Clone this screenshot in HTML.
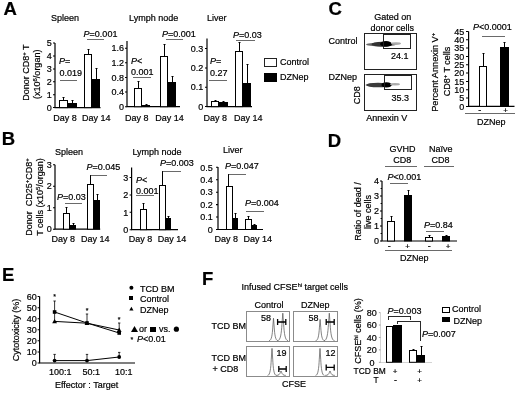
<!DOCTYPE html>
<html><head><meta charset="utf-8"><title>Figure</title>
<style>
html,body{margin:0;padding:0;background:#fff;}
svg{display:block;}
svg{font-family:"Liberation Sans",Arial,sans-serif;font-size:9px;fill:#000;}
text{stroke:#000;stroke-width:0.2px;}
</style></head><body>
<svg width="520" height="394" viewBox="0 0 520 394">
<defs><filter id="b1" x="-20%" y="-200%" width="140%" height="500%"><feGaussianBlur stdDeviation="0.5"/></filter></defs>
<rect x="0" y="0" width="520" height="394" fill="#fff"/>
<text x="3.6" y="14.6" font-size="18.5" font-weight="bold">A</text>
<text x="51" y="21.4">Spleen</text>
<text x="129" y="21.4">Lymph node</text>
<text x="207" y="21.4">Liver</text>
<text transform="translate(29.4,72.6) rotate(-90)" text-anchor="middle">Donor CD8<tspan dy="-3" font-size="6">+</tspan><tspan dy="3" font-size="0.1">​</tspan> T</text>
<text transform="translate(40.2,74.3) rotate(-90)" text-anchor="middle">(x10<tspan dy="-3" font-size="6">6</tspan><tspan dy="3" font-size="0.1">​</tspan>/organ)</text>
<path d="M55 43.1L55 107.6L100.5 107.6" stroke="#000" stroke-width="1.2" fill="none"/>
<path d="M53.0 107.6L55 107.6M53.0 94.69999999999999L55 94.69999999999999M53.0 81.8L55 81.8M53.0 68.89999999999999L55 68.89999999999999M53.0 55.99999999999999L55 55.99999999999999M53.0 43.099999999999994L55 43.099999999999994" stroke="#000" stroke-width="1.02" fill="none"/>
<text x="51.7" y="110.8" text-anchor="end">0</text>
<text x="51.7" y="97.9" text-anchor="end">1</text>
<text x="51.7" y="85.0" text-anchor="end">2</text>
<text x="51.7" y="72.1" text-anchor="end">3</text>
<text x="51.7" y="59.2" text-anchor="end">4</text>
<text x="51.7" y="46.3" text-anchor="end">5</text>
<path d="M63.5 100L63.5 97.0M62.5 97.5L64.5 97.5" stroke="#000" stroke-width="1" fill="none"/>
<rect x="59.5" y="100.5" width="8.0" height="7.1" fill="#fff" stroke="#000" stroke-width="1.0"/>
<path d="M72.5 103L72.5 100.0M71.5 100.5L73.5 100.5" stroke="#000" stroke-width="1" fill="none"/>
<rect x="68" y="103" width="9" height="5.0" fill="#000" stroke="#000" stroke-width="0"/>
<path d="M88.5 54L88.5 49.0M87.5 49.5L89.5 49.5" stroke="#000" stroke-width="1" fill="none"/>
<rect x="84.5" y="54.5" width="7.0" height="53.1" fill="#fff" stroke="#000" stroke-width="1.0"/>
<path d="M96.5 79L96.5 68.0M95.5 68.5L97.5 68.5" stroke="#000" stroke-width="1" fill="none"/>
<rect x="92" y="79" width="8" height="29.0" fill="#000" stroke="#000" stroke-width="0"/>
<text x="59" y="64.4"><tspan font-style="italic">P</tspan>=</text>
<text x="59.5" y="75.6">0.019</text>
<path d="M60 80.5L77 80.5" stroke="#1a1a1a" stroke-width="0.65" fill="none" shape-rendering="crispEdges"/>
<text x="83.6" y="37.4"><tspan font-style="italic">P</tspan>=0.001</text>
<path d="M86.6 39.5L104.4 39.5" stroke="#1a1a1a" stroke-width="0.65" fill="none" shape-rendering="crispEdges"/>
<text x="53.2" y="121.4">Day 8</text>
<text x="82" y="121.4">Day 14</text>
<path d="M127 41L127 106.7L180 106.7" stroke="#000" stroke-width="1.2" fill="none"/>
<path d="M125.0 106.7L127 106.7M125.0 92.06L127 92.06M125.0 77.42L127 77.42M125.0 62.78L127 62.78M125.0 48.14L127 48.14" stroke="#000" stroke-width="1.02" fill="none"/>
<text x="124" y="109.9" text-anchor="end">0</text>
<text x="124" y="95.26" text-anchor="end">0.4</text>
<text x="124" y="80.62" text-anchor="end">0.8</text>
<text x="124" y="65.98" text-anchor="end">1.2</text>
<text x="124" y="51.34" text-anchor="end">1.6</text>
<path d="M138.5 88L138.5 81.0M137.5 81.5L139.5 81.5" stroke="#000" stroke-width="1" fill="none"/>
<rect x="134.5" y="88.5" width="7.0" height="18.2" fill="#fff" stroke="#000" stroke-width="1.0"/>
<path d="M146.5 105L146.5 104.0M145.5 104.5L147.5 104.5" stroke="#000" stroke-width="1" fill="none"/>
<rect x="142" y="105" width="8" height="2.1" fill="#000" stroke="#000" stroke-width="0"/>
<path d="M164.5 56L164.5 44.0M163.5 44.5L165.5 44.5" stroke="#000" stroke-width="1" fill="none"/>
<rect x="160.5" y="56.5" width="7.0" height="50.2" fill="#fff" stroke="#000" stroke-width="1.0"/>
<path d="M172.5 82L172.5 76.0M171.5 76.5L173.5 76.5" stroke="#000" stroke-width="1" fill="none"/>
<rect x="168" y="82" width="8" height="25.1" fill="#000" stroke="#000" stroke-width="0"/>
<text x="131" y="64.4"><tspan font-style="italic">P</tspan>&lt;</text>
<text x="131" y="75.2">0.001</text>
<path d="M132.5 77.5L150.6 77.5" stroke="#1a1a1a" stroke-width="0.65" fill="none" shape-rendering="crispEdges"/>
<text x="162" y="37.4"><tspan font-style="italic">P</tspan>=0.001</text>
<path d="M165.6 39.5L183 39.5" stroke="#1a1a1a" stroke-width="0.65" fill="none" shape-rendering="crispEdges"/>
<text x="125.1" y="121.3">Day 8</text>
<text x="155.2" y="121.3">Day 14</text>
<path d="M207 38.4L207 106.6L252 106.6" stroke="#000" stroke-width="1.2" fill="none"/>
<path d="M205.0 106.6L207 106.6M205.0 87.25L207 87.25M205.0 67.89999999999999L207 67.89999999999999M205.0 48.55L207 48.55" stroke="#000" stroke-width="1.02" fill="none"/>
<text x="203.3" y="109.8" text-anchor="end">0</text>
<text x="203.3" y="90.45" text-anchor="end">0.1</text>
<text x="203.3" y="71.1" text-anchor="end">0.2</text>
<text x="203.3" y="51.75" text-anchor="end">0.3</text>
<path d="M215.5 101L215.5 100.0M214.5 100.5L216.5 100.5" stroke="#000" stroke-width="1" fill="none"/>
<rect x="211.5" y="101.5" width="7.0" height="5.1" fill="#fff" stroke="#000" stroke-width="1.0"/>
<path d="M223.5 102L223.5 101.0M222.5 101.5L224.5 101.5" stroke="#000" stroke-width="1" fill="none"/>
<rect x="219" y="102" width="9" height="5.0" fill="#000" stroke="#000" stroke-width="0"/>
<path d="M239.5 51L239.5 42.0M238.5 42.5L240.5 42.5" stroke="#000" stroke-width="1" fill="none"/>
<rect x="235.5" y="51.5" width="7.0" height="55.1" fill="#fff" stroke="#000" stroke-width="1.0"/>
<path d="M247.5 83L247.5 64.0M246.5 64.5L248.5 64.5" stroke="#000" stroke-width="1" fill="none"/>
<rect x="243" y="83" width="8" height="24.0" fill="#000" stroke="#000" stroke-width="0"/>
<text x="210" y="64"><tspan font-style="italic">P</tspan>=</text>
<text x="210" y="75.8">0.27</text>
<path d="M209.4 80.5L227.2 80.5" stroke="#1a1a1a" stroke-width="0.65" fill="none" shape-rendering="crispEdges"/>
<text x="233" y="38"><tspan font-style="italic">P</tspan>=0.03</text>
<path d="M236.3 40.5L254.8 40.5" stroke="#1a1a1a" stroke-width="0.65" fill="none" shape-rendering="crispEdges"/>
<text x="203.6" y="121.4">Day 8</text>
<text x="234" y="121.4">Day 14</text>
<rect x="264.5" y="58.5" width="12.0" height="8.0" fill="#fff" stroke="#222" stroke-width="1" shape-rendering="crispEdges"/>
<text x="280" y="65.2">Control</text>
<rect x="264" y="73.4" width="12.6" height="8.2" fill="#000" stroke="#000" stroke-width="0" shape-rendering="crispEdges"/>
<text x="280" y="80.4">DZNep</text>
<text x="328.5" y="15" font-size="18.5" font-weight="bold">C</text>
<text x="392.7" y="20" text-anchor="middle">Gated on</text>
<text x="392.3" y="31" text-anchor="middle">donor cells</text>
<text x="328.4" y="44">Control</text>
<text x="328.4" y="80.4">DZNep</text>
<rect x="364.5" y="33.5" width="52.0" height="36.0" fill="#fff" stroke="#222" stroke-width="1" shape-rendering="crispEdges"/>
<rect x="364.5" y="74.5" width="52.0" height="36.0" fill="#fff" stroke="#222" stroke-width="1" shape-rendering="crispEdges"/>
<g filter="url(#b1)">
<ellipse cx="381" cy="44.4" rx="15" ry="1.8" fill="#666"/>
<ellipse cx="382" cy="44.3" rx="10.5" ry="2.5" fill="#333"/>
<ellipse cx="386" cy="43.9" rx="6" ry="2.8" fill="#000"/>
<ellipse cx="396" cy="43.6" rx="5" ry="1.3" fill="#aaa"/>
<ellipse cx="379" cy="85" rx="13.5" ry="1.8" fill="#666"/>
<ellipse cx="378" cy="85" rx="11.5" ry="2.3" fill="#3a3a3a"/>
<ellipse cx="386.5" cy="84.8" rx="5" ry="2.6" fill="#000"/>
<ellipse cx="395" cy="84.2" rx="5" ry="1.2" fill="#aaa"/>
</g>
<rect x="383.5" y="34.5" width="27.0" height="14.0" fill="none" stroke="#222" stroke-width="1" shape-rendering="crispEdges"/>
<rect x="384.5" y="75.5" width="27.0" height="14.0" fill="none" stroke="#222" stroke-width="1" shape-rendering="crispEdges"/>
<text x="391" y="59">24.1</text>
<text x="391.6" y="100.6">35.3</text>
<text transform="translate(360.3,95.2) rotate(-90)" text-anchor="middle">CD8</text>
<text x="366.2" y="121">Annexin V</text>
<path d="M468.6 31.4L468.6 106.4L514.5 106.4" stroke="#000" stroke-width="1.2" fill="none"/>
<path d="M466.0 106.4L468.6 106.4M466.0 98.065L468.6 98.065M466.0 89.73L468.6 89.73M466.0 81.39500000000001L468.6 81.39500000000001M466.0 73.06L468.6 73.06M466.0 64.725L468.6 64.725M466.0 56.39000000000001L468.6 56.39000000000001M466.0 48.05500000000001L468.6 48.05500000000001M466.0 39.72L468.6 39.72M466.0 31.385000000000005L468.6 31.385000000000005" stroke="#000" stroke-width="1.02" fill="none"/>
<text x="464.2" y="109.6" text-anchor="end">0</text>
<text x="464.2" y="101.27" text-anchor="end">5</text>
<text x="464.2" y="92.93" text-anchor="end">10</text>
<text x="464.2" y="84.6" text-anchor="end">15</text>
<text x="464.2" y="76.26" text-anchor="end">20</text>
<text x="464.2" y="67.92" text-anchor="end">25</text>
<text x="464.2" y="59.59" text-anchor="end">30</text>
<text x="464.2" y="51.26" text-anchor="end">35</text>
<text x="464.2" y="42.92" text-anchor="end">40</text>
<text x="464.2" y="34.59" text-anchor="end">45</text>
<path d="M483.5 66L483.5 53.0M482.5 53.5L484.5 53.5" stroke="#000" stroke-width="1" fill="none"/>
<rect x="479.5" y="66.5" width="7.0" height="39.9" fill="#fff" stroke="#000" stroke-width="1.0"/>
<path d="M504.5 47L504.5 42.0M503.5 42.5L505.5 42.5" stroke="#000" stroke-width="1" fill="none"/>
<rect x="500" y="47" width="9" height="59.8" fill="#000" stroke="#000" stroke-width="0"/>
<text x="473" y="29.6"><tspan font-style="italic">P</tspan>&lt;0.0001</text>
<path d="M482 36L504.6 36" stroke="#1a1a1a" stroke-width="0.65" fill="none" shape-rendering="crispEdges"/>
<text x="479.8" y="113" text-anchor="middle">-</text>
<text x="505.7" y="113.2" text-anchor="middle" font-size="8">+</text>
<path d="M465.4 113.5L515.4 113.5" stroke="#1a1a1a" stroke-width="0.65" fill="none" shape-rendering="crispEdges"/>
<text x="477" y="124.9">DZNep</text>
<text transform="translate(438.3,72.3) rotate(-90)" text-anchor="middle" font-size="9.2">Percent Annexin V<tspan dy="-3" font-size="6">+</tspan><tspan dy="3" font-size="0.1">​</tspan></text>
<text transform="translate(449.6,71.5) rotate(-90)" text-anchor="middle">CD8<tspan dy="-3" font-size="6">+</tspan><tspan dy="3" font-size="0.1">​</tspan> T cells</text>
<text x="1.8" y="144.8" font-size="18.5" font-weight="bold">B</text>
<text x="55" y="155">Spleen</text>
<text x="132.4" y="155">Lymph node</text>
<text x="223" y="153">Liver</text>
<text transform="translate(31.5,197) rotate(-90)" text-anchor="middle" xml:space="preserve" style="white-space:pre">Donor  CD25<tspan dy="-3" font-size="6">+</tspan><tspan dy="3" font-size="0.1">​</tspan>CD8<tspan dy="-3" font-size="6">+</tspan><tspan dy="3" font-size="0.1">​</tspan></text>
<text transform="translate(42.5,197) rotate(-90)" text-anchor="middle">T cells (x10<tspan dy="-3" font-size="6">5</tspan><tspan dy="3" font-size="0.1">​</tspan>/organ)</text>
<path d="M55 164.7L55 229.2L100.2 229.2" stroke="#000" stroke-width="1.2" fill="none"/>
<path d="M53.0 229.2L55 229.2M53.0 207.7L55 207.7M53.0 186.2L55 186.2M53.0 164.7L55 164.7" stroke="#000" stroke-width="1.02" fill="none"/>
<text x="51.8" y="232.4" text-anchor="end">0</text>
<text x="51.8" y="210.9" text-anchor="end">1</text>
<text x="51.8" y="189.4" text-anchor="end">2</text>
<text x="51.8" y="167.9" text-anchor="end">3</text>
<path d="M66.5 213L66.5 207.0M65.5 207.5L67.5 207.5" stroke="#000" stroke-width="1" fill="none"/>
<rect x="63.5" y="213.5" width="6.0" height="15.7" fill="#fff" stroke="#000" stroke-width="1.0"/>
<path d="M73.5 225L73.5 223.0M72.5 223.5L74.5 223.5" stroke="#000" stroke-width="1" fill="none"/>
<rect x="70" y="225" width="6" height="4.6" fill="#000" stroke="#000" stroke-width="0"/>
<path d="M90.5 184L90.5 175.0" stroke="#000" stroke-width="1" fill="none"/>
<rect x="87.5" y="184.5" width="6.0" height="44.7" fill="#fff" stroke="#000" stroke-width="1.0"/>
<path d="M97.5 200L97.5 194.0M96.5 194.5L98.5 194.5" stroke="#000" stroke-width="1" fill="none"/>
<rect x="94" y="200" width="6" height="29.6" fill="#000" stroke="#000" stroke-width="0"/>
<text x="57" y="200.4"><tspan font-style="italic">P</tspan>=0.03</text>
<path d="M64.6 203.5L82.4 203.5" stroke="#1a1a1a" stroke-width="0.65" fill="none" shape-rendering="crispEdges"/>
<text x="86.4" y="170"><tspan font-style="italic">P</tspan>=0.045</text>
<path d="M90.4 175.5L107 175.5" stroke="#1a1a1a" stroke-width="0.65" fill="none" shape-rendering="crispEdges"/>
<text x="51.6" y="241.6">Day 8</text>
<text x="81" y="241.6">Day 14</text>
<path d="M131.6 167.4L131.6 229.7L178 229.7" stroke="#000" stroke-width="1.2" fill="none"/>
<path d="M129.6 229.7L131.6 229.7M129.6 212.29999999999998L131.6 212.29999999999998M129.6 194.89999999999998L131.6 194.89999999999998M129.6 177.5L131.6 177.5" stroke="#000" stroke-width="1.02" fill="none"/>
<text x="128.2" y="232.9" text-anchor="end">0</text>
<text x="128.2" y="215.5" text-anchor="end">1</text>
<text x="128.2" y="198.1" text-anchor="end">2</text>
<text x="128.2" y="180.7" text-anchor="end">3</text>
<path d="M143.5 209L143.5 203.0M142.5 203.5L144.5 203.5" stroke="#000" stroke-width="1" fill="none"/>
<rect x="140.5" y="209.5" width="6.0" height="20.2" fill="#fff" stroke="#000" stroke-width="1.0"/>
<rect x="147" y="229" width="5" height="1.1" fill="#000" stroke="#000" stroke-width="0"/>
<path d="M162.5 185L162.5 171.0" stroke="#000" stroke-width="1" fill="none"/>
<rect x="159.5" y="185.5" width="6.0" height="44.2" fill="#fff" stroke="#000" stroke-width="1.0"/>
<path d="M168.5 218L168.5 216.0M167.5 216.5L169.5 216.5" stroke="#000" stroke-width="1" fill="none"/>
<rect x="166" y="218" width="5" height="12.1" fill="#000" stroke="#000" stroke-width="0"/>
<text x="136" y="183"><tspan font-style="italic">P</tspan>&lt;</text>
<text x="136" y="194">0.001</text>
<path d="M136 195.6L154 195.6" stroke="#1a1a1a" stroke-width="0.65" fill="none" shape-rendering="crispEdges"/>
<text x="160" y="166"><tspan font-style="italic">P</tspan>=0.003</text>
<path d="M162 171.4L181 171.4" stroke="#1a1a1a" stroke-width="0.65" fill="none" shape-rendering="crispEdges"/>
<text x="128.8" y="242">Day 8</text>
<text x="157.8" y="242">Day 14</text>
<path d="M218 167L218 229.5L263 229.5" stroke="#000" stroke-width="1.2" fill="none"/>
<path d="M216.0 229.5L218 229.5M216.0 217.06L218 217.06M216.0 204.62L218 204.62M216.0 192.18L218 192.18M216.0 179.74L218 179.74M216.0 167.3L218 167.3" stroke="#000" stroke-width="1.02" fill="none"/>
<text x="212.8" y="232.7" text-anchor="end">0</text>
<text x="212.8" y="220.26" text-anchor="end">0.1</text>
<text x="212.8" y="207.82" text-anchor="end">0.2</text>
<text x="212.8" y="195.38" text-anchor="end">0.3</text>
<text x="212.8" y="182.94" text-anchor="end">0.4</text>
<text x="212.8" y="170.5" text-anchor="end">0.5</text>
<path d="M228.5 186L228.5 174.0" stroke="#000" stroke-width="1" fill="none"/>
<rect x="226.5" y="186.5" width="6.0" height="43.0" fill="#fff" stroke="#000" stroke-width="1.0"/>
<path d="M235.5 218L235.5 213.0M234.5 213.5L236.5 213.5" stroke="#000" stroke-width="1" fill="none"/>
<rect x="233" y="218" width="5" height="11.9" fill="#000" stroke="#000" stroke-width="0"/>
<path d="M248.5 219L248.5 216.0M247.5 216.5L249.5 216.5" stroke="#000" stroke-width="1" fill="none"/>
<rect x="245.5" y="219.5" width="6.0" height="10.0" fill="#fff" stroke="#000" stroke-width="1.0"/>
<path d="M254.5 225L254.5 224.0M253.5 224.5L255.5 224.5" stroke="#000" stroke-width="1" fill="none"/>
<rect x="252" y="225" width="5" height="4.9" fill="#000" stroke="#000" stroke-width="0"/>
<text x="225" y="169"><tspan font-style="italic">P</tspan>=0.047</text>
<path d="M228 174L246 174" stroke="#1a1a1a" stroke-width="0.65" fill="none" shape-rendering="crispEdges"/>
<text x="245" y="206.4"><tspan font-style="italic">P</tspan>=0.004</text>
<path d="M246 211L263.6 211" stroke="#1a1a1a" stroke-width="0.65" fill="none" shape-rendering="crispEdges"/>
<text x="214.4" y="241.6">Day 8</text>
<text x="243.6" y="241.6">Day 14</text>
<text x="327.8" y="146.6" font-size="18.5" font-weight="bold">D</text>
<text x="402.6" y="151.6" text-anchor="middle">GVHD</text>
<text x="402.2" y="162.6" text-anchor="middle">CD8</text>
<text x="440.7" y="151.6" text-anchor="middle">Naïve</text>
<text x="440.5" y="162.6" text-anchor="middle">CD8</text>
<path d="M385.4 166.6L417 166.6" stroke="#1a1a1a" stroke-width="0.65" fill="none" shape-rendering="crispEdges"/>
<path d="M423.6 166.6L454.4 166.6" stroke="#1a1a1a" stroke-width="0.65" fill="none" shape-rendering="crispEdges"/>
<text x="387.4" y="179.6"><tspan font-style="italic">P</tspan>&lt;0.001</text>
<path d="M390 183.6L407.6 183.6" stroke="#1a1a1a" stroke-width="0.65" fill="none" shape-rendering="crispEdges"/>
<path d="M382 181L382 241.0L457 241.0" stroke="#000" stroke-width="1.2" fill="none"/>
<path d="M380.0 241.0L382 241.0M380.0 226.0L382 226.0M380.0 211.0L382 211.0M380.0 196.0L382 196.0M380.0 181.0L382 181.0M380.6 233.5L382 233.5M380.6 218.5L382 218.5M380.6 203.5L382 203.5M380.6 188.5L382 188.5" stroke="#000" stroke-width="1.02" fill="none"/>
<text x="379" y="244.2" text-anchor="end">0</text>
<text x="379" y="229.2" text-anchor="end">1</text>
<text x="379" y="214.2" text-anchor="end">2</text>
<text x="379" y="199.2" text-anchor="end">3</text>
<text x="379" y="184.2" text-anchor="end">4</text>
<path d="M391.5 221L391.5 216.0M390.5 216.5L392.5 216.5" stroke="#000" stroke-width="1" fill="none"/>
<rect x="387.5" y="221.5" width="7.0" height="19.5" fill="#fff" stroke="#000" stroke-width="1.0"/>
<path d="M408.5 195L408.5 190.0M407.5 190.5L409.5 190.5" stroke="#000" stroke-width="1" fill="none"/>
<rect x="404" y="195" width="8" height="46.4" fill="#000" stroke="#000" stroke-width="0"/>
<path d="M429.5 237L429.5 235.0M428.5 235.5L430.5 235.5" stroke="#000" stroke-width="1" fill="none"/>
<rect x="425.5" y="237.5" width="7.0" height="3.5" fill="#fff" stroke="#000" stroke-width="1.0"/>
<path d="M446.5 236L446.5 235.0M445.5 235.5L447.5 235.5" stroke="#000" stroke-width="1" fill="none"/>
<rect x="442" y="236" width="8" height="5.4" fill="#000" stroke="#000" stroke-width="0"/>
<text x="424" y="227.6"><tspan font-style="italic">P</tspan>=0.84</text>
<path d="M426.4 231L444.4 231" stroke="#1a1a1a" stroke-width="0.65" fill="none" shape-rendering="crispEdges"/>
<text x="389.2" y="248.8" text-anchor="middle">-</text>
<text x="407.6" y="249" text-anchor="middle" font-size="8">+</text>
<text x="429.2" y="248.8" text-anchor="middle">-</text>
<text x="448" y="249" text-anchor="middle" font-size="8">+</text>
<path d="M385 250.3L452 250.3" stroke="#1a1a1a" stroke-width="0.65" fill="none" shape-rendering="crispEdges"/>
<text x="400" y="261">DZNep</text>
<text transform="translate(361.3,211.5) rotate(-90)" text-anchor="middle">Ratio of dead /</text>
<text transform="translate(371.4,212) rotate(-90)" text-anchor="middle">live cells</text>
<text x="1.9" y="280.6" font-size="18.5" font-weight="bold">E</text>
<path d="M39.6 296.6L39.6 363.0L135 363.0" stroke="#000" stroke-width="1.2" fill="none"/>
<path d="M37.6 363.0L39.6 363.0M37.6 351.93L39.6 351.93M37.6 340.86L39.6 340.86M37.6 329.79L39.6 329.79M37.6 318.72L39.6 318.72M37.6 307.65L39.6 307.65M37.6 296.58L39.6 296.58" stroke="#000" stroke-width="1.02" fill="none"/>
<text x="36.8" y="366.2" text-anchor="end">0</text>
<text x="36.8" y="355.13" text-anchor="end">10</text>
<text x="36.8" y="344.06" text-anchor="end">20</text>
<text x="36.8" y="332.99" text-anchor="end">30</text>
<text x="36.8" y="321.92" text-anchor="end">40</text>
<text x="36.8" y="310.85" text-anchor="end">50</text>
<text x="36.8" y="299.78" text-anchor="end">60</text>
<path d="M54.6 312L54.6 301M53.4 301L55.800000000000004 301" stroke="#000" stroke-width="0.8" fill="none"/>
<path d="M54.6 360.6L54.6 354.4M53.4 354.4L55.800000000000004 354.4" stroke="#000" stroke-width="0.8" fill="none"/>
<path d="M87 323L87 314M85.8 314L88.2 314" stroke="#000" stroke-width="0.8" fill="none"/>
<path d="M87 360.6L87 354.4M85.8 354.4L88.2 354.4" stroke="#000" stroke-width="0.8" fill="none"/>
<path d="M119.2 333L119.2 323M118.0 323L120.4 323" stroke="#000" stroke-width="0.8" fill="none"/>
<path d="M119.2 357L119.2 352.4M118.0 352.4L120.4 352.4" stroke="#000" stroke-width="0.8" fill="none"/>
<path d="M54.6 312L54.6 321.4" stroke="#000" stroke-width="0.8" fill="none"/>
<path d="M54.6 312L87 323L119.2 333" stroke="#000" stroke-width="1.0" fill="none"/>
<path d="M54.6 321.4L87 323.2L119.2 330" stroke="#000" stroke-width="1.0" fill="none"/>
<path d="M54.6 360.6L87 360.6L119.2 357" stroke="#000" stroke-width="1.0" fill="none"/>
<rect x="52.8" y="310.2" width="3.6" height="3.6" fill="#000" stroke="#000" stroke-width="0"/>
<path d="M52.2 323.29999999999995L57.0 323.29999999999995L54.6 318.9Z" fill="#000"/>
<circle cx="54.6" cy="360.6" r="1.9" fill="#000"/>
<rect x="85.2" y="321.2" width="3.6" height="3.6" fill="#000" stroke="#000" stroke-width="0"/>
<path d="M84.6 325.09999999999997L89.4 325.09999999999997L87 320.7Z" fill="#000"/>
<circle cx="87" cy="360.6" r="1.9" fill="#000"/>
<rect x="117.4" y="331.2" width="3.6" height="3.6" fill="#000" stroke="#000" stroke-width="0"/>
<path d="M116.8 331.9L121.60000000000001 331.9L119.2 327.5Z" fill="#000"/>
<circle cx="119.2" cy="357" r="1.9" fill="#000"/>
<text x="54.6" y="298.6" text-anchor="middle" font-size="7">*</text>
<text x="87" y="312.6" text-anchor="middle" font-size="7">*</text>
<text x="119.2" y="322.20000000000005" text-anchor="middle" font-size="7">*</text>
<text x="49" y="375.3">100:1</text>
<text x="82.4" y="375.3">50:1</text>
<text x="115" y="375.3">10:1</text>
<text x="55" y="388">Effector : Target</text>
<text transform="translate(18.9,330) rotate(-90)" text-anchor="middle">Cytotoxicity (%)</text>
<circle cx="131.4" cy="287.8" r="2" fill="#000"/>
<text x="140" y="292">TCD BM</text>
<rect x="129.4" y="296" width="4.0" height="4.2" fill="#000" stroke="#000" stroke-width="0" shape-rendering="crispEdges"/>
<text x="140" y="302.4">Control</text>
<path d="M129.3 310.6L133.5 310.6L131.4 306.8Z" fill="#000"/>
<text x="140" y="313">DZNep</text>
<path d="M131 332L138 332L134.5 326Z" fill="#000"/>
<text x="139" y="331.8">or</text>
<rect x="150.4" y="326.6" width="5.6" height="5.4" fill="#000" stroke="#000" stroke-width="0" shape-rendering="crispEdges"/>
<text x="159" y="331.8">vs.</text>
<circle cx="176.4" cy="329.2" r="2.6" fill="#000"/>
<text x="130.6" y="341.8" font-size="7">*</text>
<text x="137" y="342.4"><tspan font-style="italic">P</tspan>&lt;0.01</text>
<text x="201.9" y="285" font-size="18.5" font-weight="bold">F</text>
<text x="241.6" y="290.4">Infused CFSE<tspan dy="-3" font-size="5.5">hi</tspan><tspan dy="3" font-size="0.1">​</tspan> target cells</text>
<text x="254.4" y="307.6">Control</text>
<text x="301" y="307.6">DZNep</text>
<rect x="246.6" y="311.6" width="43.0" height="29.8" fill="#fff" stroke="#5a5a5a" stroke-width="0.7" shape-rendering="crispEdges"/>
<rect x="246.6" y="346.6" width="43.0" height="29.4" fill="#fff" stroke="#5a5a5a" stroke-width="0.7" shape-rendering="crispEdges"/>
<rect x="293.6" y="311.6" width="43.4" height="29.8" fill="#fff" stroke="#5a5a5a" stroke-width="0.7" shape-rendering="crispEdges"/>
<rect x="293.6" y="346.6" width="43.4" height="29.4" fill="#fff" stroke="#5a5a5a" stroke-width="0.7" shape-rendering="crispEdges"/>
<clipPath id="c1"><rect x="246.6" y="311.6" width="43" height="29.8"/></clipPath>
<clipPath id="c2"><rect x="293.6" y="311.6" width="43.4" height="29.8"/></clipPath>
<clipPath id="c3"><rect x="246.6" y="346.6" width="43" height="29.4"/></clipPath>
<clipPath id="c4"><rect x="293.6" y="346.6" width="43.4" height="29.4"/></clipPath>
<g clip-path="url(#c1)">
<path d="M269.1 340.6C271.52 340.6 272.29 335.0 272.796 327.16L273.5 318.2L274.204 327.16C274.71 335.0 275.48 340.6 277.9 340.6M277.6 340.6C280.46000000000004 340.6 281.37 333.75 281.968 324.16L282.8 313.2L283.632 324.16C284.23 333.75 285.14 340.6 288.0 340.6" stroke="#5a5a5a" stroke-width="0.75" fill="none"/>
</g>
<g clip-path="url(#c2)">
<path d="M315.70000000000005 340.6C318.12 340.6 318.89000000000004 335.3 319.396 327.88L320.1 319.4L320.80400000000003 327.88C321.31 335.3 322.08000000000004 340.6 324.5 340.6M324.1 340.6C326.96000000000004 340.6 327.87 333.75 328.468 324.16L329.3 313.2L330.132 324.16C330.73 333.75 331.64 340.6 334.5 340.6" stroke="#5a5a5a" stroke-width="0.75" fill="none"/>
</g>
<g clip-path="url(#c3)">
<path d="M267.6 375.4C270.02 375.4 270.79 368.65 271.296 359.2L272 348.4L272.704 359.2C273.21 368.65 273.98 375.4 276.4 375.4M276.2 375.4C278.84 375.4 279.68 374.3 280.232 372.76L281 371L281.768 372.76C282.32 374.3 283.16 375.4 285.8 375.4" stroke="#5a5a5a" stroke-width="0.75" fill="none"/>
</g>
<g clip-path="url(#c4)">
<path d="M315.6 375.4C318.02 375.4 318.79 368.65 319.296 359.2L320 348.4L320.704 359.2C321.21 368.65 321.98 375.4 324.4 375.4M325.2 375.4C327.84 375.4 328.68 374.3 329.232 372.76L330 371L330.768 372.76C331.32 374.3 332.16 375.4 334.8 375.4" stroke="#5a5a5a" stroke-width="0.75" fill="none"/>
</g>
<path d="M277.6 322L285.8 322M277.6 319L277.6 325M285.8 319L285.8 325" stroke="#000" stroke-width="1.3" fill="none"/>
<path d="M326.2 322L334.2 322M326.2 319L326.2 325M334.2 319L334.2 325" stroke="#000" stroke-width="1.3" fill="none"/>
<path d="M278.8 369L286.2 369M278.8 366L278.8 372M286.2 366L286.2 372" stroke="#000" stroke-width="1.3" fill="none"/>
<path d="M326.2 367.4L334.2 367.4M326.2 364.4L326.2 370.4M334.2 364.4L334.2 370.4" stroke="#000" stroke-width="1.3" fill="none"/>
<text x="261" y="321">58</text>
<text x="308.6" y="321">58</text>
<text x="276.4" y="356">19</text>
<text x="325.4" y="356">12</text>
<text x="211.6" y="329.4">TCD BM</text>
<text x="211.6" y="360.6">TCD BM</text>
<text x="212.4" y="371.6">+ CD8</text>
<text x="282" y="387">CFSE</text>
<path d="M380.5 312.5L380.5 362.5L432 362.5" stroke="#d4d4d4" stroke-width="1" fill="none" shape-rendering="crispEdges"/>
<path d="M378.9 362.3L380.5 362.3M378.9 349.88L380.5 349.88M378.9 337.46L380.5 337.46M378.9 325.04L380.5 325.04M378.9 312.62L380.5 312.62" stroke="#8a8a8a" stroke-width="0.8" fill="none"/>
<text x="374.6" y="366.1" text-anchor="end">0</text>
<text x="376.8" y="353.08" text-anchor="end">20</text>
<text x="376.8" y="340.66" text-anchor="end">40</text>
<text x="376.8" y="328.24" text-anchor="end">60</text>
<text x="376.8" y="315.82" text-anchor="end">80</text>
<rect x="386.5" y="326.5" width="6.0" height="35.8" fill="#fff" stroke="#000" stroke-width="1.0"/>
<rect x="393" y="325" width="9" height="37.7" fill="#000" stroke="#000" stroke-width="0"/>
<path d="M413.5 350L413.5 349.0M412.5 349.5L414.5 349.5" stroke="#000" stroke-width="1" fill="none"/>
<rect x="409.5" y="350.5" width="7.0" height="11.8" fill="#fff" stroke="#000" stroke-width="1.0"/>
<path d="M421.5 355L421.5 346.0M420.5 346.5L422.5 346.5" stroke="#000" stroke-width="1" fill="none"/>
<rect x="417" y="355" width="8" height="7.7" fill="#000" stroke="#000" stroke-width="0"/>
<path d="M388.5 319.6L388.5 316.5L410.5 316.5L410.5 319.6" stroke="#2a2a2a" stroke-width="1" fill="none" shape-rendering="crispEdges"/>
<path d="M397.5 324L397.5 321.5L420.5 321.5L420.5 341" stroke="#2a2a2a" stroke-width="1" fill="none" shape-rendering="crispEdges"/>
<text x="387.6" y="314"><tspan font-style="italic">P</tspan>=0.003</text>
<text x="422" y="337"><tspan font-style="italic">P</tspan>=0.007</text>
<rect x="442.5" y="307.5" width="7.0" height="4.5" fill="#fff" stroke="#000" stroke-width="1" shape-rendering="crispEdges"/>
<text x="452" y="312">Control</text>
<rect x="442" y="317" width="7.6" height="4.6" fill="#000" stroke="#000" stroke-width="0" shape-rendering="crispEdges"/>
<text x="453.4" y="323.6">DZNep</text>
<text x="353.6" y="374" font-size="8.4">TCD BM</text>
<text x="395" y="374" text-anchor="middle" font-size="8">+</text>
<text x="419.6" y="374" text-anchor="middle" font-size="8">+</text>
<text x="373.4" y="383" font-size="8.4">T</text>
<text x="395.4" y="383.2" text-anchor="middle">-</text>
<text x="419.6" y="383.4" text-anchor="middle" font-size="8">+</text>
<text transform="translate(361.3,331) rotate(-90)" text-anchor="middle">CFSE<tspan dy="-3" font-size="5.5">hi</tspan><tspan dy="3" font-size="0.1">​</tspan> cells (%)</text>
</svg>
</body></html>
